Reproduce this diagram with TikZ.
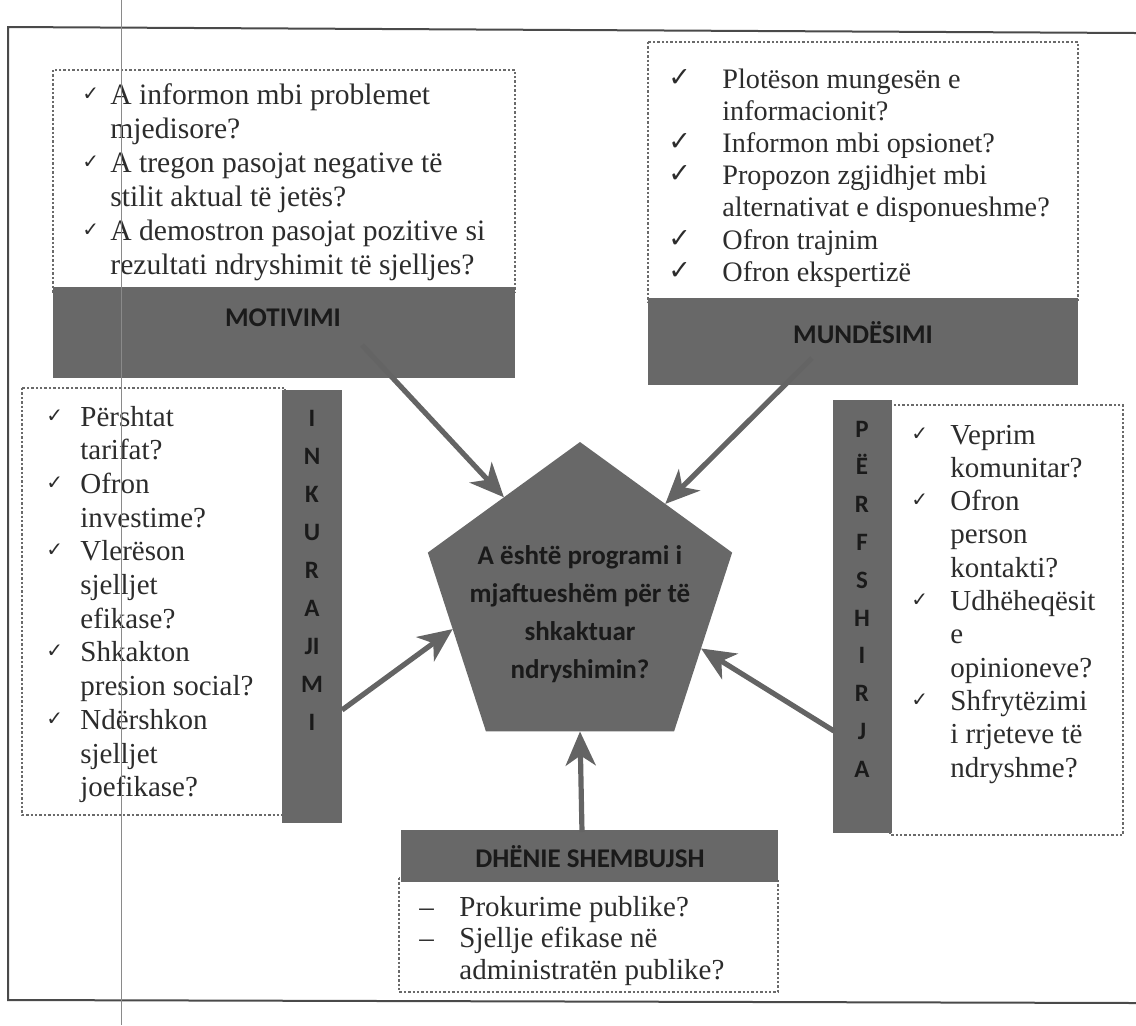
\documentclass[tikz,border=0pt]{standalone}
\usepackage{fontspec}
\setmainfont{Liberation Serif}
\newfontfamily\hdfont{Carlito}
\newfontfamily\symfont{DejaVu Sans}
\usetikzlibrary{shapes.geometric,arrows.meta}
\definecolor{bandc}{HTML}{686868}
\definecolor{bandtxt}{HTML}{1A1A1A}
\definecolor{inkc}{HTML}{2C2C2C}
\definecolor{dotc}{HTML}{6A6A6A}
\definecolor{arrowc}{HTML}{646464}
\definecolor{framec}{HTML}{4A4A4A}
\definecolor{scanc}{HTML}{8A8A8A}
\newcommand{\ck}{\raisebox{2pt}{\symfont\fontsize{10}{10}\selectfont ✓}}
\newcommand{\bigck}{\raisebox{1pt}{\symfont\bfseries\fontsize{13.5}{12}\selectfont ✓}}
\tikzset{
  dotbox/.style={draw=dotc, line width=1.2pt, dash pattern=on 1.2pt off 1pt},
  bandbox/.style={fill=bandc, draw=none, inner sep=0pt, outer sep=0pt},
  bandlbl/.style={font=\hdfont\bfseries\fontsize{13.5}{16}\selectfont, text=bandtxt, inner sep=0pt},
  vlbl/.style={font=\hdfont\bfseries\fontsize{12.5}{#1}\selectfont, text=bandtxt, inner sep=0pt},
  listtxt/.style={font=\fontsize{14.5}{#1}\selectfont, text=inkc, inner sep=0pt},
  arr/.style={draw=arrowc, line width=2.6pt, -{Stealth[length=17pt,width=15pt,inset=5pt]}},
  framel/.style={draw=framec, line width=1pt},
  scanline/.style={draw=scanc, line width=0.5pt}
}
\begin{document}
\begin{tikzpicture}[x=0.5pt,y=-0.5pt]
\useasboundingbox (0,0) rectangle (1136,1025);
% page frame
\draw[framel] (1136,33) -- (8,27) -- (8,1000) -- (1136,1003);
% dotted boxes
\draw[dotbox] (53,70) rectangle (515,292);
\draw[dotbox] (648,42) rectangle (1078,302);
\draw[dotbox] (22,388) rectangle (285,815);
\draw[dotbox] (890,405) rectangle (1123,835);
\draw[dotbox] (399,878) rectangle (778,992);
% bands
\node[bandbox, minimum width=231pt, minimum height=45.5pt, anchor=north west] (motband) at (53,287) {};
\node[bandbox, minimum width=215pt, minimum height=43.5pt, anchor=north west] (munband) at (648,298) {};
\node[bandbox, minimum width=30pt, minimum height=216.5pt, anchor=north west] (inkband) at (282,390) {};
\node[bandbox, minimum width=29.5pt, minimum height=216.5pt, anchor=north west] (perband) at (833,400) {};
\node[bandbox, minimum width=188.5pt, minimum height=26pt, anchor=north west] (dhband) at (401,830) {};
% band labels
\node[bandlbl] (motlbl) at (283,318) {MOTIVIMI};
\node[bandlbl] (munlbl) at (863,333) {MUNDËSIMI};
\node[bandlbl] (dhlbl) at (590,857) {DHËNIE SHEMBUJSH};
\node[vlbl=19pt, anchor=base] (inklbl) at (312,426)
  {\begin{tabular}[t]{@{}c@{}}I\\N\\K\\U\\R\\A\\JI\\M\\I\end{tabular}};
\node[vlbl=18.9pt, anchor=base] (perlbl) at (862,437)
  {\begin{tabular}[t]{@{}c@{}}P\\Ë\\R\\F\\S\\H\\I\\R\\J\\A\end{tabular}};
% lists
\node[listtxt=17pt, font=\fontsize{14.8}{17}\selectfont, anchor=base west] (motlist) at (82,104)
  {\begin{tabular}[t]{@{}l@{}l@{}}
  \makebox[14pt][l]{\ck} & A informon mbi problemet\\
   & mjedisore?\\
  \makebox[14pt][l]{\ck} & A tregon pasojat negative të\\
   & stilit aktual të jetës?\\
  \makebox[14pt][l]{\ck} & A demostron pasojat pozitive si\\
   & rezultati ndryshimit të sjelljes?
  \end{tabular}};
\node[listtxt=16.1pt, font=\fontsize{14.1}{16.1}\selectfont, anchor=base west] (munlist) at (668,88)
  {\begin{tabular}[t]{@{}l@{}l@{}}
  \makebox[27pt][l]{\bigck} & Plotëson mungesën e\\
   & informacionit?\\
  \makebox[27pt][l]{\bigck} & Informon mbi opsionet?\\
  \makebox[27pt][l]{\bigck} & Propozon zgjidhjet mbi\\
   & alternativat e disponueshme?\\
  \makebox[27pt][l]{\bigck} & Ofron trajnim\\
  \makebox[27pt][l]{\bigck} & Ofron ekspertizë
  \end{tabular}};
\node[listtxt=16.85pt, anchor=base west] (inklist) at (46,426)
  {\begin{tabular}[t]{@{}l@{}l@{}}
  \makebox[17pt][l]{\ck} & Përshtat\\
   & tarifat?\\
  \makebox[17pt][l]{\ck} & Ofron\\
   & investime?\\
  \makebox[17pt][l]{\ck} & Vlerëson\\
   & sjelljet\\
   & efikase?\\
  \makebox[17pt][l]{\ck} & Shkakton\\
   & presion social?\\
  \makebox[17pt][l]{\ck} & Ndërshkon\\
   & sjelljet\\
   & joefikase?
  \end{tabular}};
\node[listtxt=16.65pt, anchor=base west] (perlist) at (911,444)
  {\begin{tabular}[t]{@{}l@{}l@{}}
  \makebox[19.5pt][l]{\ck} & Veprim\\
   & komunitar?\\
  \makebox[19.5pt][l]{\ck} & Ofron\\
   & person\\
   & kontakti?\\
  \makebox[19.5pt][l]{\ck} & Udhëheqësit\\
   & e\\
   & opinioneve?\\
  \makebox[19.5pt][l]{\ck} & Shfrytëzimi\\
   & i rrjeteve të\\
   & ndryshme?
  \end{tabular}};
\node[listtxt=15.8pt, anchor=base west] (dhlist) at (419,916)
  {\begin{tabular}[t]{@{}l@{}l@{}}
  \makebox[20pt][l]{--} & Prokurime publike?\\
  \makebox[20pt][l]{--} & Sjellje efikase në\\
   & administratën publike?
  \end{tabular}};
% central pentagon
\node[regular polygon, regular polygon sides=5, minimum size=160pt, inner sep=0pt, outer sep=0pt, fill=bandc] (pent) at (580,602) {};
\node[font=\hdfont\bfseries\fontsize{13.5}{19}\selectfont, text=bandtxt, align=center, inner sep=0pt] (penttxt) at (580,614)
  {A është programi i\\mjaftueshëm për të\\shkaktuar\\ndryshimin?};
% arrows
\coordinate (mS) at (362,345);
\coordinate (nS) at (812,358);
\coordinate (iS) at (342,710);
\coordinate (pS) at (834,731);
\coordinate (dS) at (582,832);
\draw[arr] (mS) -- (pent.126);
\draw[arr] (nS) -- (pent.49);
\draw[arr] (iS) -- (pent.192);
\draw[arr] (pS) -- (pent.-21);
\draw[arr] (dS) -- (pent.-90);
% scan line over everything
\draw[scanline] (121,0) -- (121,1025);
\end{tikzpicture}
\end{document}
